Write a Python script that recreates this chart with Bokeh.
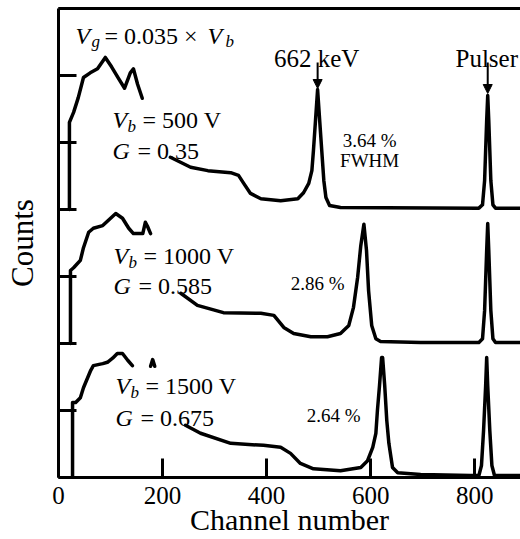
from bokeh.plotting import figure
from bokeh.models import Range1d, LinearAxis, FixedTicker, Label, Arrow, NormalHead
from bokeh.embed import file_html
from bokeh.resources import INLINE

# ---------------- data (channel, counts relative to each trace's baseline) ----------------
x_ticks = [0, 200, 400, 600, 800]
y_ticks = [0, 1, 2, 3, 4, 5, 6, 7]
trace_offsets = [4, 2, 0]          # vertical stacking of the three spectra
trace_names = ["Vb500", "Vb1000", "Vb1500"]

# Vb = 500 V, G = 0.35
vb500_low_ch = [21, 21, 29, 38, 48, 61, 75, 90, 102, 115, 127, 138, 144, 152, 161]
vb500_low_ct = [0.00, 1.30, 1.45, 1.67, 1.97, 2.04, 2.10, 2.27, 2.13, 1.96, 1.81, 2.04, 2.10, 1.87, 1.66]
vb500_high_ch = [215, 254, 287, 331, 346, 356, 369, 389, 427, 460, 471, 481, 487, 490, 494, 498,
                 502, 506, 510, 514, 521, 542, 808, 815, 819, 821, 823, 825, 827, 829, 831, 835, 840, 888]
vb500_high_ct = [0.78, 0.63, 0.58, 0.55, 0.51, 0.39, 0.24, 0.16, 0.13, 0.16, 0.25, 0.39, 0.58, 0.88, 1.33, 1.79,
                 1.33, 0.88, 0.43, 0.18, 0.06, 0.03, 0.02, 0.07, 0.43, 0.88, 1.33, 1.70, 1.33, 0.88, 0.43, 0.07, 0.02, 0.02]

# Vb = 1000 V, G = 0.585
vb1000_low_ch = [23, 23, 29, 42, 48, 58, 67, 85, 96, 110, 123, 135, 144, 162, 167, 171, 177]
vb1000_low_ct = [0.00, 1.09, 1.13, 1.24, 1.43, 1.66, 1.72, 1.76, 1.84, 1.94, 1.87, 1.72, 1.64, 1.64, 1.81, 1.75, 1.64]
vb1000_high_ch = [235, 267, 317, 389, 414, 433, 452, 485, 517, 542, 558, 567, 575, 581, 587, 592, 596, 602, 610,
                  619, 696, 808, 815, 819, 821, 823, 825, 827, 829, 831, 835, 840, 888]
vb1000_high_ct = [0.75, 0.57, 0.46, 0.45, 0.42, 0.24, 0.15, 0.10, 0.10, 0.15, 0.27, 0.54, 0.99, 1.46, 1.78, 1.39,
                  0.79, 0.27, 0.07, 0.03, 0.015, 0.015, 0.07, 0.49, 0.94, 1.39, 1.79, 1.39, 0.94, 0.49, 0.07, 0.015, 0.015]

# Vb = 1500 V, G = 0.675
vb1500_low_ch = [27, 27, 33, 42, 48, 62, 67, 85, 94, 104, 113, 123, 133, 142]
vb1500_low_ct = [0.00, 1.12, 1.12, 1.19, 1.34, 1.60, 1.67, 1.70, 1.72, 1.78, 1.85, 1.85, 1.75, 1.67]
vb1500_spike_ch = [177, 181, 185]
vb1500_spike_ct = [1.66, 1.76, 1.66]
vb1500_high_ch = [244, 273, 331, 394, 427, 446, 465, 490, 542, 581, 594, 604, 610, 613, 617, 621, 623, 627, 631,
                  635, 642, 652, 696, 792, 808, 813, 817, 821, 823, 825, 829, 833, 838, 888]
vb1500_high_ct = [0.78, 0.66, 0.51, 0.48, 0.45, 0.36, 0.21, 0.13, 0.10, 0.15, 0.25, 0.45, 0.66, 1.00, 1.37, 1.79,
                  1.79, 1.37, 0.85, 0.51, 0.15, 0.07, 0.045, 0.03, 0.03, 0.18, 0.70, 1.37, 1.79, 1.37, 0.70, 0.18, 0.03, 0.03]

segments = [
    (vb500_low_ch, vb500_low_ct, 4), (vb500_high_ch, vb500_high_ct, 4),
    (vb1000_low_ch, vb1000_low_ct, 2), (vb1000_high_ch, vb1000_high_ct, 2),
    (vb1500_low_ch, vb1500_low_ct, 0), (vb1500_spike_ch, vb1500_spike_ct, 0), (vb1500_high_ch, vb1500_high_ct, 0),
]

SERIF = "Liberation Serif"

p = figure(width=520, height=539, output_backend="svg", toolbar_location=None,
           x_range=Range1d(0, 888), y_range=Range1d(0, 7),
           min_border_left=58, min_border_right=0, min_border_top=8, min_border_bottom=62)
p.outline_line_color = None
p.grid.visible = False
p.background_fill_color = "white"
p.border_fill_color = "white"

for ch, ct, off in segments:
    p.line(ch, [off + v for v in ct], line_color="black", line_width=3.5, line_join="round", line_cap="round")

# ---- axes ----
xa = p.xaxis[0]
xa.ticker = FixedTicker(ticks=x_ticks)
xa.major_tick_in = 19
xa.major_tick_out = 0
xa.minor_tick_in = 0
xa.minor_tick_out = 0
xa.axis_line_width = 3
xa.major_tick_line_width = 3
xa.major_label_text_font = SERIF
xa.major_label_text_font_size = "25px"
xa.major_label_text_color = "black"
xa.major_label_standoff = 9
xa.axis_label = "Channel number"
xa.axis_label_text_font = SERIF
xa.axis_label_text_font_size = "30px"
xa.axis_label_text_font_style = "normal"
xa.axis_label_text_color = "black"
xa.axis_label_standoff = -4

ya = p.yaxis[0]
ya.ticker = FixedTicker(ticks=y_ticks)
ya.major_tick_in = 18
ya.major_tick_out = 0
ya.minor_tick_in = 0
ya.minor_tick_out = 0
ya.axis_line_width = 3
ya.major_tick_line_width = 3
ya.major_label_overrides = {t: "" for t in y_ticks}
ya.major_label_standoff = 0
ya.axis_label = "Counts"
ya.axis_label_text_font = SERIF
ya.axis_label_text_font_size = "31px"
ya.axis_label_text_font_style = "normal"
ya.axis_label_text_color = "black"
ya.axis_label_standoff = 19

top = LinearAxis(ticker=FixedTicker(ticks=[]), axis_line_width=3,
                 major_label_standoff=0,
                 major_tick_in=0, major_tick_out=0, minor_tick_in=0, minor_tick_out=0)
p.add_layout(top, "above")


# ---- annotations (placed from pixel positions in the reference) ----
def P(xp, yp):
    return (xp - 58) / 0.52, (477 - yp) / 67


def lab(xp, yp, text, size=24, style="normal", align="left"):
    x, y = P(xp, yp)
    p.add_layout(Label(x=x, y=y, text=text, text_font=SERIF, text_font_size=f"{size}px",
                       text_font_style=style, text_color="black", text_align=align,
                       text_baseline="alphabetic"))


# V_g = 0.035 x V_b
lab(75, 35, "V", style="italic")
lab(91, 41, "g", size=17, style="italic")
lab(104, 35, "= 0.035 ×")
lab(207, 35, "V", style="italic")
lab(225, 41, "b", size=17, style="italic")


def vb_block(x0, b1, b2, vb, g):
    lab(x0, b1, "V", style="italic")
    lab(x0 + 15, b1 + 7, "b", size=17, style="italic")
    lab(x0 + 30, b1, f"= {vb} V")
    lab(x0, b2, "G", style="italic")
    lab(x0 + 25, b2, f"= {g}")


vb_block(112, 119, 150, "500", "0.35")
vb_block(113, 255, 285, "1000", "0.585")
vb_block(115, 385, 417, "1500", "0.675")

lab(369, 140, "3.64 %", size=19, align="center")
lab(369, 160, "FWHM", size=19, align="center")
lab(317, 283, "2.86 %", size=19, align="center")
lab(333, 415, "2.64 %", size=19, align="center")

lab(316, 58, "662 keV", size=25, align="center")
lab(486, 58, "Pulser", size=25, align="center")

for xp, y0, y1 in [(317, 62, 88), (487, 62, 93)]:
    xs, ys = P(xp, y0)
    xe, ye = P(xp, y1)
    p.add_layout(Arrow(x_start=xs, y_start=ys, x_end=xe, y_end=ye, line_width=2, line_color="black",
                       end=NormalHead(size=9, fill_color="black", line_color="black", line_width=1)))

open("out.html", "w").write(file_html(p, INLINE))
